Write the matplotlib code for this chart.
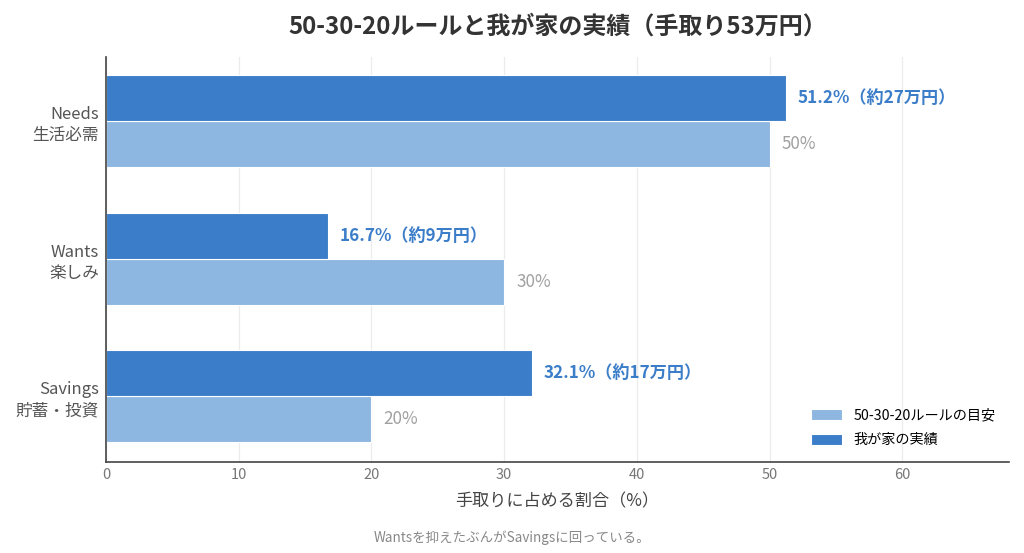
import matplotlib
matplotlib.use("Agg")
import matplotlib.pyplot as plt
import numpy as np

plt.rcParams['font.family'] = ['Noto Sans CJK JP', 'DejaVu Sans']

categories = ['Needs\n生活必需', 'Wants\n楽しみ', 'Savings\n貯蓄・投資']
rule_pct = [50, 30, 20]
actual_pct = [51.2, 16.7, 32.1]
actual_yen = ['約27万円', '約9万円', '約17万円']

light = '#8db6e0'
dark = '#3b7dc8'

fig = plt.figure(figsize=(10.24, 5.53), dpi=100)
ax = fig.add_axes([0.1035, 0.1646, 0.8815, 0.7324])

y = np.arange(len(categories))
h = 0.335
ax.barh(y + h / 2, rule_pct, height=h, color=light, edgecolor='white', linewidth=0.8,
        label='50-30-20ルールの目安', zorder=2)
ax.barh(y - h / 2, actual_pct, height=h, color=dark, edgecolor='white', linewidth=0.8,
        label='我が家の実績', zorder=2)

for i in range(len(categories)):
    ax.annotate(f'{actual_pct[i]}%（{actual_yen[i]}）', (actual_pct[i], y[i] - h / 2),
                xytext=(8.5, 0), textcoords='offset points', va='center', ha='left',
                color=dark, fontsize=12.3, fontweight='bold')
    ax.annotate(f'{rule_pct[i]}%', (rule_pct[i], y[i] + h / 2),
                xytext=(8.5, 0), textcoords='offset points', va='center', ha='left',
                color='#a0a0a0', fontsize=12.3)

ax.set_yticks(y)
ax.set_yticklabels(categories, fontsize=12, color='#555555', linespacing=1.3)
ax.set_ylim(2.48, -0.47)
ax.set_xlim(0, 68)
ax.set_xticks(np.arange(0, 70, 10))
ax.tick_params(axis='x', labelsize=10.5, colors='#777777', length=0, pad=4)
ax.tick_params(axis='y', length=0, pad=5)
ax.grid(axis='x', color='#ececec', linewidth=0.9, zorder=0)
ax.set_axisbelow(True)
for s in ['top', 'right']:
    ax.spines[s].set_visible(False)
for s in ['left', 'bottom']:
    ax.spines[s].set_color('#444444')
    ax.spines[s].set_linewidth(1.2)

ax.set_xlabel('手取りに占める割合（%）', fontsize=12.3, color='#444444', labelpad=8)

handles, labels = ax.get_legend_handles_labels()
ax.legend(handles, labels, loc='lower right', frameon=False, fontsize=10.2,
          handlelength=2.2, handleheight=0.8, labelspacing=0.75,
          bbox_to_anchor=(1.0, 0.005))

ax.set_title('50-30-20ルールと我が家の実績（手取り53万円）', fontsize=17.3, fontweight='bold',
             color='#333333', pad=17)
fig.text(0.5, 0.027, 'Wantsを抑えたぶんがSavingsに回っている。', ha='center', va='center',
         fontsize=9.7, color='#888888')

fig.savefig('out.png', dpi=100)
